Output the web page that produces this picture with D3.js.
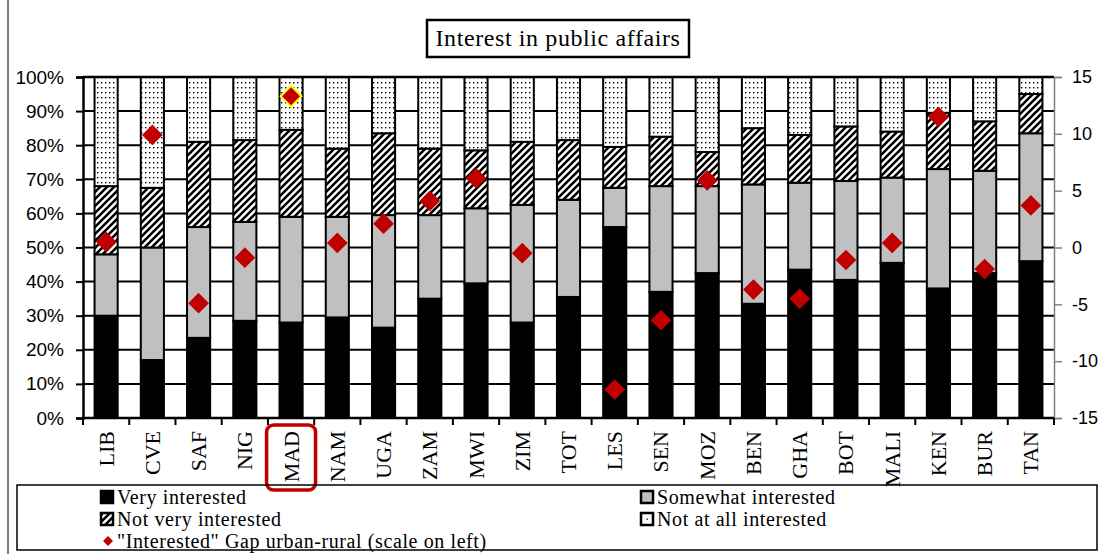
<!DOCTYPE html>
<html>
<head>
<meta charset="utf-8">
<script src="https://cdn.jsdelivr.net/npm/d3@7"></script>
<style>
  body { margin: 0; background: #fff; }
  svg { display: block; }
  .serif { font-family: "Liberation Serif", "Times New Roman", serif; }
  .sans { font-family: "Liberation Sans", Arial, sans-serif; }
</style>
</head>
<body>
<div id="chart"></div>
<script>
// Datos
const paises = ['LIB','CVE','SAF','NIG','MAD','NAM','UGA','ZAM','MWI','ZIM','TOT','LES','SEN','MOZ','BEN','GHA','BOT','MALI','KEN','BUR','TAN'];
const muyInteresado     = [30, 17, 23.5, 28.5, 28, 29.5, 26.5, 35, 39.5, 28, 35.5, 56, 37, 42.5, 33.5, 43.5, 40.5, 45.5, 38, 42.5, 46];
const algoInteresado    = [18, 33, 32.5, 29, 31, 29.5, 33, 24.5, 22, 34.5, 28.5, 11.5, 31, 25.5, 35, 25.5, 29, 25, 35, 30, 37.5];
const pocoInteresado    = [20, 17.5, 25, 24, 25.5, 20, 24, 19.5, 17, 18.5, 17.5, 12, 14.5, 10, 16.5, 14, 16, 13.5, 16.5, 14.5, 11.5];
const nadaInteresado    = [32, 32.5, 19, 18.5, 15.5, 21, 16.5, 21, 21.5, 19, 18.5, 20.5, 17.5, 22, 15, 17, 14.5, 16, 10.5, 13, 5];
const brechaUrbanoRural = [0.5, 9.9, -4.9, -0.9, 13.3, 0.4, 2.1, 4.1, 6.1, -0.5, null, -12.5, -6.4, 5.9, -3.7, -4.5, -1.1, 0.4, 11.5, -1.9, 3.7];
const ticksIzq = [0, 10, 20, 30, 40, 50, 60, 70, 80, 90, 100];
const ticksDer = [-15, -10, -5, 0, 5, 10, 15];
const series = ['Very interested', 'Somewhat interested', 'Not very interested', 'Not at all interested'];
const destacado = 'MAD';

const width = 1107, height = 554;
const margin = {left: 83, right: 1054, top: 77, bottom: 418};

const svg = d3.select('#chart').append('svg')
    .attr('width', width)
    .attr('height', height);

//Patrones
const defs = svg.append('defs');
const hatch = defs.append('pattern')
    .attr('id', 'hatch')
    .attr('patternUnits', 'userSpaceOnUse')
    .attr('width', 7).attr('height', 7);
hatch.append('rect').attr('width', 7).attr('height', 7).attr('fill', '#fff');
hatch.append('path')
    .attr('d', 'M-1,1 l2,-2 M0,7 l7,-7 M6,8 l2,-2')
    .attr('stroke', '#000').attr('stroke-width', 2.6);

const dots = defs.append('pattern')
    .attr('id', 'dots')
    .attr('patternUnits', 'userSpaceOnUse')
    .attr('width', 4).attr('height', 5);
dots.append('rect').attr('width', 4).attr('height', 5).attr('fill', '#fff');
dots.append('rect').attr('x', 1).attr('y', 2).attr('width', 1.4).attr('height', 1.4).attr('fill', '#000');

const fills = ['#000', '#c0c0c0', 'url(#hatch)', 'url(#dots)'];

//Escalas
const x = d3.scaleBand()
    .domain(paises)
    .range([margin.left, margin.right])
    .paddingInner(0.5)
    .paddingOuter(0.25);

const y = d3.scaleLinear().domain([0, 100]).range([margin.bottom, margin.top]);
const y2 = d3.scaleLinear().domain([-15, 15]).range([margin.bottom, margin.top]);

//Línea izquierda del área
svg.append('line')
    .attr('x1', 8).attr('x2', 8).attr('y1', 0).attr('y2', height)
    .attr('stroke', '#000').attr('stroke-width', 1);

//Título
const gTitle = svg.append('g');
gTitle.append('rect')
    .attr('x', 427).attr('y', 20).attr('width', 262).attr('height', 37)
    .attr('fill', '#fff').attr('stroke', '#000').attr('stroke-width', 2.5);
gTitle.append('text')
    .attr('class', 'serif')
    .attr('x', 558).attr('y', 46)
    .attr('text-anchor', 'middle')
    .attr('font-size', 24)
    .attr('letter-spacing', 0.6)
    .text('Interest in public affairs');

//Rejilla
svg.append('g')
    .selectAll('line')
    .data(ticksIzq.filter(d => d > 0 && d < 100))
    .enter().append('line')
    .attr('x1', margin.left).attr('x2', margin.right)
    .attr('y1', d => y(d)).attr('y2', d => y(d))
    .attr('stroke', '#000').attr('stroke-width', 2);

//Barras apiladas
const tabla = paises.map((p, i) => ({pais: p, vals: [muyInteresado[i], algoInteresado[i], pocoInteresado[i], nadaInteresado[i]]}));
const gBars = svg.append('g');
tabla.forEach(function(d) {
    let acum = 0;
    d.vals.forEach(function(v, j) {
        gBars.append('rect')
            .attr('x', x(d.pais))
            .attr('width', x.bandwidth())
            .attr('y', y(acum + v))
            .attr('height', y(acum) - y(acum + v))
            .attr('fill', fills[j])
            .attr('stroke', '#000')
            .attr('stroke-width', 2);
        acum += v;
    });
});

//Ejes
const axisLeft = svg.append('g')
    .attr('transform', 'translate(' + margin.left + ',0)')
    .call(d3.axisLeft(y).tickValues(ticksIzq).tickSize(7).tickPadding(12).tickFormat(d => d + '%'));
axisLeft.select('.domain').attr('stroke-width', 2.5);
axisLeft.selectAll('.tick line').attr('stroke-width', 2);
axisLeft.selectAll('text').attr('class', 'sans').attr('font-size', 19).attr('fill', '#000');

//Borde superior
svg.append('line')
    .attr('x1', margin.left).attr('x2', margin.right)
    .attr('y1', margin.top).attr('y2', margin.top)
    .attr('stroke', '#000').attr('stroke-width', 2.5);

const axisRight = svg.append('g')
    .attr('transform', 'translate(' + margin.right + ',0)')
    .call(d3.axisRight(y2).tickValues(ticksDer).tickSize(8).tickPadding(10).tickFormat(d => d < 0 ? '-' + Math.abs(d) : d));
axisRight.select('.domain').attr('stroke', '#808080').attr('stroke-width', 1.5);
axisRight.selectAll('.tick line').attr('stroke', '#808080').attr('stroke-width', 1.5);
axisRight.selectAll('text').attr('class', 'sans').attr('font-size', 18).attr('fill', '#000');

//Eje X
svg.append('line')
    .attr('x1', margin.left).attr('x2', margin.right)
    .attr('y1', margin.bottom).attr('y2', margin.bottom)
    .attr('stroke', '#000').attr('stroke-width', 2.5);

const limites = paises.map(p => x(p) - x.step() * x.paddingInner() / 2).concat([margin.right]);
svg.append('g')
    .selectAll('line')
    .data(limites)
    .enter().append('line')
    .attr('x1', d => d).attr('x2', d => d)
    .attr('y1', margin.bottom).attr('y2', margin.bottom + 7)
    .attr('stroke', '#000').attr('stroke-width', 2);

svg.append('g')
    .selectAll('text')
    .data(paises)
    .enter().append('text')
    .attr('class', 'serif')
    .attr('transform', d => 'translate(' + (x(d) + x.bandwidth() / 2) + ',' + 431 + ') rotate(-90)')
    .attr('dy', '0.34em')
    .attr('text-anchor', 'end')
    .attr('font-size', 22)
    .text(d => d);

//Recuadro destacado
svg.append('rect')
    .attr('x', x(destacado) + x.bandwidth() / 2 - 24.5)
    .attr('y', 425)
    .attr('width', 49).attr('height', 65)
    .attr('rx', 7)
    .attr('fill', 'none')
    .attr('stroke', '#c00000')
    .attr('stroke-width', 3.5);

//Rombos
const rombo = d3.symbol().type(d3.symbolSquare).size(215);
svg.append('g')
    .selectAll('path')
    .data(paises.map((p, i) => ({pais: p, v: brechaUrbanoRural[i]})).filter(d => d.v !== null))
    .enter().append('path')
    .attr('d', rombo)
    .attr('transform', d => 'translate(' + (x(d.pais) + x.bandwidth() / 2) + ',' + y2(d.v) + ') rotate(45)')
    .attr('fill', '#c00000')
    .attr('stroke', d => d.pais == destacado ? '#ffff00' : 'none')
    .attr('stroke-width', 2);

//Leyenda
const leg = svg.append('g');
leg.append('rect')
    .attr('x', 17).attr('y', 485).attr('width', 1080).attr('height', 65)
    .attr('fill', 'none').attr('stroke', '#000').attr('stroke-width', 1.5);

const legItems = [
    {label: series[0], fill: fills[0], x: 101, y: 497},
    {label: series[2], fill: fills[2], x: 101, y: 519},
    {label: series[1], fill: fills[1], x: 641, y: 497},
    {label: series[3], fill: 'url(#dots)', x: 641, y: 519}
];
legItems.forEach(function(d) {
    leg.append('rect')
        .attr('x', d.x).attr('y', d.y - 6).attr('width', 12).attr('height', 12)
        .attr('fill', d.fill === 'url(#dots)' ? '#fff' : d.fill)
        .attr('stroke', '#000').attr('stroke-width', 2.5);
    if(d.fill === 'url(#dots)') {
        leg.append('rect').attr('x', d.x + 5.5).attr('y', d.y - 0.5).attr('width', 1.3).attr('height', 1.3).attr('fill', '#000');
    }
    leg.append('text')
        .attr('class', 'serif')
        .attr('x', d.x + 16).attr('y', d.y + 7)
        .attr('font-size', 20)
        .attr('letter-spacing', 0.6)
        .text(d.label);
});
leg.append('path')
    .attr('d', d3.symbol().type(d3.symbolSquare).size(50))
    .attr('transform', 'translate(108,541) rotate(45)')
    .attr('fill', '#c00000');
leg.append('text')
    .attr('class', 'serif')
    .attr('x', 117).attr('y', 548)
    .attr('font-size', 20)
    .attr('letter-spacing', 0.6)
    .text('"Interested" Gap urban-rural (scale on left)');
</script>
</body>
</html>
